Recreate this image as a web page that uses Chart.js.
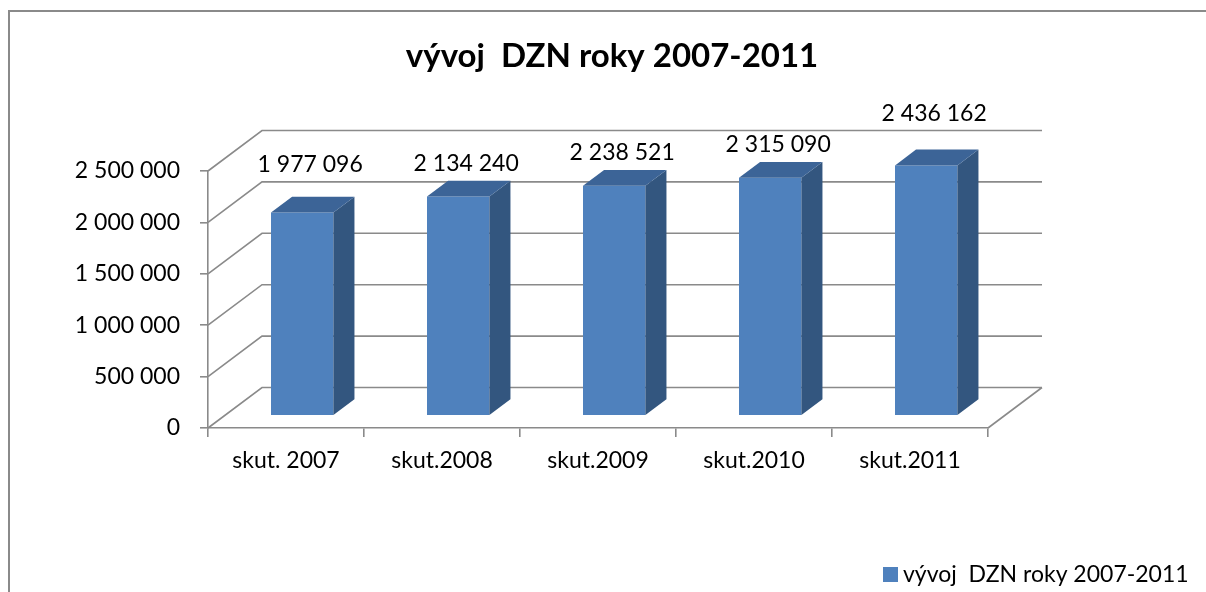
<!DOCTYPE html>
<html>
<head>
<meta charset="utf-8">
<script src="https://cdn.jsdelivr.net/npm/chart.js@4.4.0/dist/chart.umd.min.js"></script>
<style>
    html, body { margin: 0; padding: 0; background: #fff; overflow: hidden; }
    #wrap { position: relative; width: 1206px; height: 592px; overflow: hidden; }
    #frame {
        position: absolute; left: 8px; top: 10px; width: 1300px; height: 700px;
        border-left: 2px solid #8a8a8a; border-top: 2px solid #8a8a8a;
    }
    canvas { position: absolute; left: 0; top: 0; }
</style>
</head>
<body>
<div id="wrap">
    <div id="frame"></div>
    <canvas id="dznChart" width="1206" height="592"></canvas>
</div>
<script>
// Data
const categories = ['skut. 2007', 'skut.2008', 'skut.2009', 'skut.2010', 'skut.2011'];
const dznValues = [1977096, 2134240, 2238521, 2315090, 2436162];
const yTicks = [0, 500000, 1000000, 1500000, 2000000, 2500000];
const seriesName = 'vývoj  DZN roky 2007-2011';
const chartTitle = 'vývoj  DZN roky 2007-2011';

// 3D look (depth of the plot box and where the bars sit in it)
const DEPTH_X = 54;
const DEPTH_Y = -40.5;
const BAR_FRONT = 0.30;
const BAR_BACK = 0.69;

const FONT = "'Lato', 'Open Sans', sans-serif";
const GRID = '#8a8a8a';
const barFront = '#4f81bd';
const barSide = '#33567f';
const barTop = '#3c6497';

// numbers like 2 500 000
function formatNumber(value) {
    return String(Math.round(value)).replace(/\B(?=(\d{3})+(?!\d))/g, ' ');
}

const threeD = {
    id: 'threeD',
    beforeDatasetsDraw(chart) {
        const ctx = chart.ctx;
        const area = chart.chartArea;
        const y = chart.scales.y;
        ctx.save();
        ctx.strokeStyle = GRID;
        ctx.lineWidth = 1.6;
        ctx.beginPath();
        yTicks.forEach(v => {
            const py = y.getPixelForValue(v);
            ctx.moveTo(area.left, py);
            ctx.lineTo(area.left + DEPTH_X, py + DEPTH_Y);
            ctx.lineTo(area.right + DEPTH_X, py + DEPTH_Y);
        });
        // right edge of the floor
        const y0 = y.getPixelForValue(0);
        ctx.moveTo(area.right, y0);
        ctx.lineTo(area.right + DEPTH_X, y0 + DEPTH_Y);
        ctx.stroke();
        ctx.restore();
    },
    beforeDatasetDraw(chart) {
        chart.ctx.save();
        chart.ctx.translate(DEPTH_X * BAR_FRONT, DEPTH_Y * BAR_FRONT);
    },
    afterDatasetDraw(chart, args) {
        const ctx = chart.ctx;
        const d = BAR_BACK - BAR_FRONT;
        const sx = DEPTH_X * d, sy = DEPTH_Y * d;
        args.meta.data.forEach(el => {
            const p = el.getProps(['x', 'y', 'base', 'width'], true);
            const left = p.x - p.width / 2, right = p.x + p.width / 2;
            // side face
            ctx.fillStyle = barSide;
            ctx.beginPath();
            ctx.moveTo(right, p.y);
            ctx.lineTo(right + sx, p.y + sy);
            ctx.lineTo(right + sx, p.base + sy);
            ctx.lineTo(right, p.base);
            ctx.closePath();
            ctx.fill();
            // top face
            ctx.fillStyle = barTop;
            ctx.beginPath();
            ctx.moveTo(left, p.y);
            ctx.lineTo(left + sx, p.y + sy);
            ctx.lineTo(right + sx, p.y + sy);
            ctx.lineTo(right, p.y);
            ctx.closePath();
            ctx.fill();
        });
        ctx.restore();
    },
    afterDatasetsDraw(chart) {
        const ctx = chart.ctx;
        const meta = chart.getDatasetMeta(0);
        const y = chart.scales.y;
        const backLines = yTicks.map(v => y.getPixelForValue(v) + DEPTH_Y);
        ctx.save();
        ctx.fillStyle = '#000';
        ctx.font = '23px ' + FONT;
        ctx.textAlign = 'center';
        ctx.textBaseline = 'middle';
        meta.data.forEach((el, i) => {
            const p = el.getProps(['x', 'y'], true);
            const lx = p.x + DEPTH_X * BAR_FRONT + 8;
            let ly = p.y + DEPTH_Y * BAR_FRONT - 33;
            // keep the label off the back gridlines
            backLines.forEach(g => {
                if (Math.abs(ly - g) < 12) ly = g - 17;
            });
            ctx.fillText(formatNumber(dznValues[i]), lx, ly);
        });
        ctx.restore();
    },
    afterDraw(chart) {
        const ctx = chart.ctx;
        ctx.save();
        // title
        ctx.fillStyle = '#000';
        ctx.font = 'bold 33px ' + FONT;
        ctx.textAlign = 'center';
        ctx.textBaseline = 'middle';
        ctx.fillText(chartTitle, 612, 56);
        // legend
        ctx.fillStyle = barFront;
        ctx.fillRect(883, 567, 15, 15);
        ctx.fillStyle = '#000';
        ctx.font = '23px ' + FONT;
        ctx.textAlign = 'left';
        ctx.fillText(seriesName, 903, 575);
        ctx.restore();
    }
};

document.addEventListener('DOMContentLoaded', function() {
    const ctx = document.getElementById('dznChart').getContext('2d');
    new Chart(ctx, {
        type: 'bar',
        data: {
            labels: categories,
            datasets: [{
                label: seriesName,
                data: dznValues,
                backgroundColor: barFront,
                borderWidth: 0,
                barPercentage: 0.4,
                categoryPercentage: 1,
                clip: false
            }]
        },
        options: {
            responsive: false,
            animation: false,
            events: [],
            layout: { padding: { left: 0, top: 171, right: 218, bottom: 0 } },
            plugins: {
                legend: { display: false },
                title: { display: false },
                tooltip: { enabled: false }
            },
            scales: {
                x: {
                    afterFit: s => { s.height = 164; },
                    grid: { drawOnChartArea: false, drawTicks: true, tickLength: 9, color: GRID, lineWidth: 1.6 },
                    border: { color: GRID, width: 1.6 },
                    ticks: { color: '#000', font: { family: FONT, size: 23 }, padding: 10, maxRotation: 0 }
                },
                y: {
                    min: 0,
                    max: 2500000,
                    afterFit: s => { s.width = 208; },
                    afterBuildTicks: s => { s.ticks = yTicks.map(v => ({ value: v })); },
                    grid: { drawOnChartArea: false, drawTicks: true, tickLength: 8, color: GRID, lineWidth: 1.6 },
                    border: { color: GRID, width: 1.6 },
                    ticks: {
                        color: '#000',
                        font: { family: FONT, size: 23 },
                        padding: 20,
                        callback: v => formatNumber(v)
                    }
                }
            }
        },
        plugins: [threeD]
    });
});
</script>
</body>
</html>
